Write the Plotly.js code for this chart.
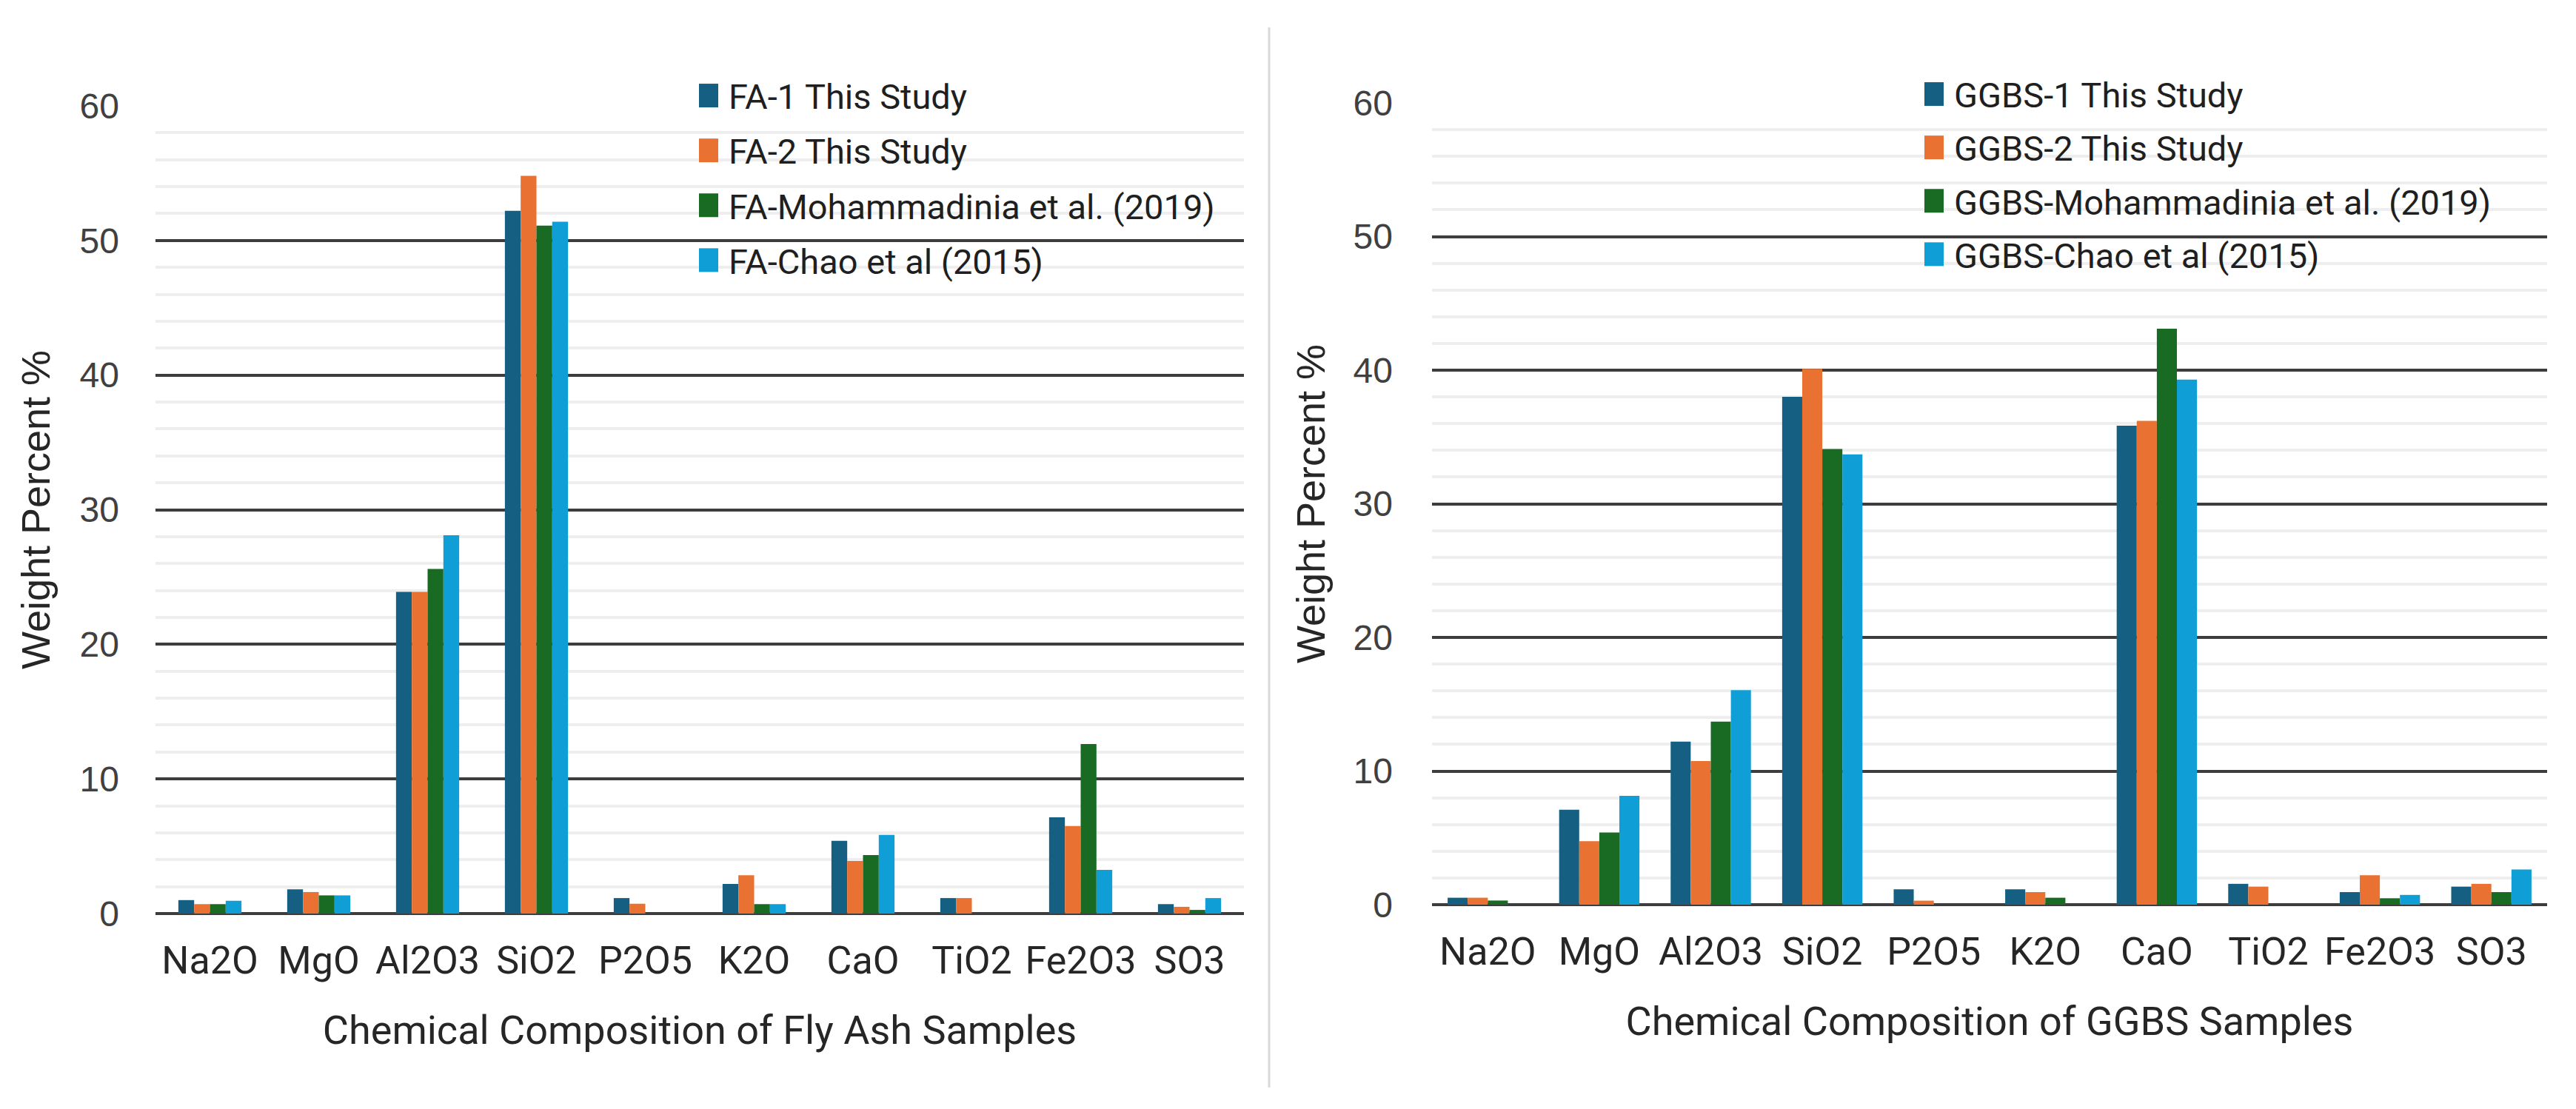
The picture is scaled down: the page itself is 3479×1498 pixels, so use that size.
<!DOCTYPE html>
<html>
<head>
<meta charset="utf-8">
<script src="https://cdn.plot.ly/plotly-3.0.1.min.js"></script>
<style>
  html, body { margin: 0; padding: 0; background: #ffffff; }
  #chart { width: 3479px; height: 1498px; }
</style>
</head>
<body>
<div id="chart"></div>
<script>
// ---- Data ----
const categories = ['Na2O', 'MgO', 'Al2O3', 'SiO2', 'P2O5', 'K2O', 'CaO', 'TiO2', 'Fe2O3', 'SO3'];

const faNames = ['FA-1 This Study', 'FA-2 This Study', 'FA-Mohammadinia et al. (2019)', 'FA-Chao et al (2015)'];
const fa1    = [1.0, 1.8, 23.9, 52.2, 1.15, 2.2, 5.4, 1.15, 7.15, 0.7];
const fa2    = [0.7, 1.6, 23.9, 54.8, 0.73, 2.85, 3.9, 1.15, 6.5, 0.5];
const faMoh  = [0.7, 1.35, 25.6, 51.1, 0, 0.7, 4.35, 0, 12.6, 0.27];
const faChao = [0.95, 1.35, 28.1, 51.4, 0, 0.7, 5.85, 0, 3.25, 1.15];

const ggbsNames = ['GGBS-1 This Study', 'GGBS-2 This Study', 'GGBS-Mohammadinia et al. (2019)', 'GGBS-Chao et al (2015)'];
const ggbs1    = [0.52, 7.1, 12.2, 38.0, 1.15, 1.15, 35.85, 1.56, 0.94, 1.35];
const ggbs2    = [0.52, 4.75, 10.75, 40.1, 0.3, 0.94, 36.2, 1.35, 2.2, 1.56];
const ggbsMoh  = [0.31, 5.4, 13.7, 34.1, 0, 0.52, 43.1, 0, 0.48, 0.94];
const ggbsChao = [0, 8.15, 16.05, 33.7, 0, 0, 39.3, 0, 0.73, 2.63];

const yTickVals = [0, 10, 20, 30, 40, 50, 60];

// ---- Styling ----
const colors = ['#156082', '#E97132', '#196B24', '#0F9ED5'];
const W = 3479, H = 1498;
const px = v => v / W;          // paper x from pixel
const py = v => 1 - v / H;      // paper y from pixel (top-origin)

function makeTraces(names, series, xa, ya, legendId, groupW) {
  const w = groupW / 4;
  return series.map((vals, i) => ({
    type: 'bar',
    name: names[i],
    x: categories,
    y: vals,
    xaxis: xa,
    yaxis: ya,
    legend: legendId,
    legendgroup: legendId + '_' + i,
    width: w,
    offset: -groupW / 2 + i * w,
    marker: { color: colors[i], line: { width: 0 } },
    hovertemplate: '%{x}: %{y}<extra>' + names[i] + '</extra>'
  }));
}

const data = [
  ...makeTraces(faNames, [fa1, fa2, faMoh, faChao], 'x', 'y', 'legend', 0.58),
  ...makeTraces(ggbsNames, [ggbs1, ggbs2, ggbsMoh, ggbsChao], 'x2', 'y2', 'legend2', 0.72)
];

const tickFontY = { family: 'Liberation Sans, Arial, sans-serif', size: 48, color: '#404040' };
const tickFontX = { family: 'Roboto, sans-serif', size: 52, color: '#262626' };
const titleFontX = { family: 'Roboto, sans-serif', size: 54, color: '#262626' };
const titleFontY = { family: 'Liberation Sans, Arial, sans-serif', size: 54, color: '#262626' };
const legendFont = { family: 'Roboto, sans-serif', size: 47, color: '#1f1f1f' };

function yAxis(domain, standoff) {
  return {
    domain: domain,
    range: [0, 60],
    tickvals: yTickVals,
    ticktext: yTickVals.map(String),
    tickfont: tickFontY,
    ticks: '',
    ticklabelstandoff: standoff,
    showgrid: true,
    gridcolor: '#3d3d3d',
    gridwidth: 4,
    zeroline: true,
    zerolinecolor: '#3d3d3d',
    zerolinewidth: 4,
    showline: false,
    minor: { dtick: 2, showgrid: true, gridcolor: '#eeeeee', gridwidth: 4, ticks: '' },
    automargin: false,
    fixedrange: true
  };
}

function xAxis(domain, anchor, titleText) {
  return {
    domain: domain,
    anchor: anchor,
    type: 'category',
    categoryorder: 'array',
    categoryarray: categories,
    tickfont: tickFontX,
    ticks: '',
    ticklabelstandoff: 28,
    showgrid: false,
    zeroline: false,
    showline: false,
    automargin: false,
    fixedrange: true,
    title: { text: titleText, font: titleFontX, standoff: 45 }
  };
}

const layout = {
  width: W,
  height: H,
  margin: { l: 0, r: 0, t: 0, b: 0, pad: 0 },
  paper_bgcolor: '#ffffff',
  plot_bgcolor: '#ffffff',
  barmode: 'group',
  showlegend: true,
  xaxis: xAxis([px(210), px(1680)], 'y', 'Chemical Composition of Fly Ash Samples'),
  yaxis: Object.assign(yAxis([py(1234), py(143)], 48), { anchor: 'x',
    title: { text: 'Weight Percent %', font: titleFontY, standoff: 22 } }),
  xaxis2: xAxis([px(1934), px(3440)], 'y2', 'Chemical Composition of GGBS Samples'),
  yaxis2: Object.assign(yAxis([py(1222), py(139)], 52), { anchor: 'x2',
    title: { text: 'Weight Percent %', font: titleFontY, standoff: 20 } }),
  legend: {
    x: px(944), y: py(92), xanchor: 'left', yanchor: 'top',
    bgcolor: 'rgba(0,0,0,0)', borderwidth: 0,
    font: legendFont, traceorder: 'grouped', tracegroupgap: 10
  },
  legend2: {
    x: px(2599), y: py(90), xanchor: 'left', yanchor: 'top',
    bgcolor: 'rgba(0,0,0,0)', borderwidth: 0,
    font: legendFont, traceorder: 'grouped', tracegroupgap: 8
  },
  shapes: [
    // white panels behind the legends (hide gridlines there, like the source)
    { type: 'rect', xref: 'paper', yref: 'paper', layer: 'below',
      x0: px(923), x1: px(1700), y0: py(380), y1: py(90),
      fillcolor: '#ffffff', line: { width: 0 } },
    { type: 'rect', xref: 'paper', yref: 'paper', layer: 'below',
      x0: px(2547), x1: px(3470), y0: py(376), y1: py(90),
      fillcolor: '#ffffff', line: { width: 0 } },
    // separator between the two panels
    { type: 'line', xref: 'paper', yref: 'paper',
      x0: px(1714), x1: px(1714), y0: py(37), y1: py(1469),
      line: { color: '#d9d9d9', width: 3 } }
  ]
};

Plotly.newPlot('chart', data, layout, { displayModeBar: false, staticPlot: true }).then(() => {
  // enlarge legend swatches to match the source's bigger colour keys
  document.querySelectorAll('.legendpoints path').forEach(p => {
    p.setAttribute('d', 'M-21,16H6V-16H-21Z');
  });
});
</script>
</body>
</html>
